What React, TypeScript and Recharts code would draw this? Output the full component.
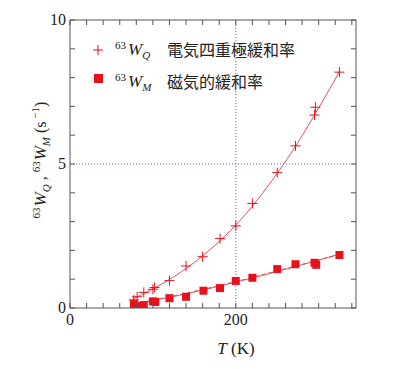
import React from "react";
import {
  ComposedChart, XAxis, YAxis, Scatter, Line, ReferenceLine,
} from "recharts";

// 63W_Q (electric quadrupole relaxation rate) measured points
const qTemp = [77, 81, 89, 100, 102, 120, 140, 160, 181, 200, 220, 250, 272, 295, 296, 325];
const qRate = [0.28, 0.39, 0.54, 0.65, 0.71, 0.95, 1.46, 1.78, 2.41, 2.85, 3.63, 4.7, 5.63, 6.7, 6.97, 8.19];
// 63W_M (magnetic relaxation rate) measured points
const mTemp = [77, 82, 89, 100, 103, 120, 140, 161, 181, 200, 220, 250, 272, 295, 297, 325];
const mRate = [0.14, 0.07, 0.1, 0.23, 0.21, 0.34, 0.39, 0.6, 0.69, 0.94, 1.05, 1.35, 1.52, 1.57, 1.5, 1.84];
// fitted curves
const qFitT = [75, 100, 125, 150, 175, 200, 225, 250, 275, 300, 325];
const qFitW = [0.3, 0.66, 1.08, 1.58, 2.18, 2.88, 3.72, 4.68, 5.75, 6.95, 8.2];
const mFitT = [75, 125, 200, 262, 325];
const mFitW = [0.14, 0.4, 0.9, 1.36, 1.87];
const mFit2W = [0.12, 0.42, 0.92, 1.38, 1.86];

const xTicks = [0, 20, 40, 60, 80, 100, 120, 140, 160, 180, 200, 220, 240, 260, 280, 300, 320, 340];
const yTicks = [0, 1, 2, 3, 4, 5, 6, 7, 8, 9, 10];
const xLabels = [0, 200];
const yLabels = [0, 5, 10];

const zip = (xs: number[], ys: number[]) => xs.map((t, i) => ({ t, w: ys[i] }));
const qData = zip(qTemp, qRate);
const mData = zip(mTemp, mRate);
const qFit = zip(qFitT, qFitW);
const mFit = zip(mFitT, mFitW);
const mFit2 = zip(mFitT, mFit2W);

const RED = "#e8101a";
const CURVE = "#e0505a";
const AXIS = "#555";
const SERIF = "'Liberation Serif', 'DejaVu Serif', serif";
const CJK = "'Noto Sans CJK JP', sans-serif";

const Plus = (p: any) => (
  <g stroke={RED} strokeWidth={1}>
    <line x1={p.cx - 5} x2={p.cx + 5} y1={p.cy} y2={p.cy} />
    <line x1={p.cx} x2={p.cx} y1={p.cy - 5} y2={p.cy + 5} />
  </g>
);
const Square = (p: any) => <rect x={p.cx - 4} y={p.cy - 4} width={8} height={8} fill={RED} />;

const BottomTick = (p: any) => (
  <g>
    <line x1={p.x} x2={p.x} y1={p.y} y2={p.y - 5} stroke={AXIS} />
    {xLabels.includes(p.payload.value) && (
      <text x={p.x} y={p.y + 17} textAnchor="middle" fontSize={16} fontFamily={SERIF} fill="#222">{p.payload.value}</text>
    )}
  </g>
);
const TopTick = (p: any) => <line x1={p.x} x2={p.x} y1={p.y} y2={p.y + 5} stroke={AXIS} />;
const LeftTick = (p: any) => (
  <g>
    <line x1={p.x} x2={p.x + 5} y1={p.y} y2={p.y} stroke={AXIS} />
    {yLabels.includes(p.payload.value) && (
      <text x={p.x - 4} y={p.y + 5} textAnchor="end" fontSize={16} fontFamily={SERIF} fill="#222">{p.payload.value}</text>
    )}
  </g>
);
const RightTick = (p: any) => <line x1={p.x} x2={p.x - 5} y1={p.y} y2={p.y} stroke={AXIS} />;

export default function App() {
  return (
    <div style={{ position: "absolute", left: 0, top: 0, width: 400, height: 369, background: "#fff" }}>
      <ComposedChart width={400} height={369} margin={{ top: 19, right: 43, bottom: 60, left: 69 }}>
        <XAxis dataKey="t" type="number" domain={[0, 345]} ticks={xTicks} allowDataOverflow
          height={1} tickSize={0} tickMargin={0} tickLine={false} tick={BottomTick} stroke={AXIS} interval={0} />
        <XAxis xAxisId="top" orientation="top" dataKey="t" type="number" domain={[0, 345]} ticks={xTicks} allowDataOverflow
          height={1} tickSize={0} tickMargin={0} tickLine={false} tick={TopTick} stroke={AXIS} interval={0} />
        <YAxis dataKey="w" type="number" domain={[0, 10]} ticks={yTicks} allowDataOverflow
          width={1} tickSize={0} tickMargin={0} tickLine={false} tick={LeftTick} stroke={AXIS} interval={0} />
        <YAxis yAxisId="right" orientation="right" dataKey="w" type="number" domain={[0, 10]} ticks={yTicks} allowDataOverflow
          width={1} tickSize={0} tickMargin={0} tickLine={false} tick={RightTick} stroke={AXIS} interval={0} />
        <ReferenceLine x={200} stroke="#5566cc" strokeDasharray="1 2" strokeWidth={1} />
        <ReferenceLine y={5} stroke="#5566cc" strokeDasharray="1 2" strokeWidth={1} />
        <Line data={qFit} dataKey="w" type="monotone" stroke={CURVE} strokeWidth={1} dot={false} isAnimationActive={false} />
        <Line data={mFit} dataKey="w" type="monotone" stroke={CURVE} strokeWidth={1} dot={false} isAnimationActive={false} />
        <Line data={mFit2} dataKey="w" type="monotone" stroke={CURVE} strokeWidth={1} strokeDasharray="4 3" dot={false} isAnimationActive={false} />
        <Scatter data={qData} dataKey="w" shape={Plus} isAnimationActive={false} />
        <Scatter data={mData} dataKey="w" shape={Square} isAnimationActive={false} />
        {/* legend */}
        <g>
          <g stroke={RED} strokeWidth={1}>
            <line x1={93} x2={103} y1={50} y2={50} />
            <line x1={98} x2={98} y1={45} y2={55} />
          </g>
          <rect x={94} y={74} width={9} height={9} fill={RED} />
          <text x={115} y={55} fontFamily={SERIF} fill="#222">
            <tspan fontSize={11} dy={-6}>63</tspan>
            <tspan fontSize={17} fontStyle="italic" dx={2} dy={6}>W</tspan>
            <tspan fontSize={11} fontStyle="italic" dy={4}>Q</tspan>
          </text>
          <text x={167} y={56} fontSize={16} fontFamily={CJK} fill="#222">電気四重極緩和率</text>
          <text x={115} y={87} fontFamily={SERIF} fill="#222">
            <tspan fontSize={11} dy={-6}>63</tspan>
            <tspan fontSize={17} fontStyle="italic" dx={2} dy={6}>W</tspan>
            <tspan fontSize={11} fontStyle="italic" dy={4}>M</tspan>
          </text>
          <text x={167} y={88} fontSize={16} fontFamily={CJK} fill="#222">磁気的緩和率</text>
        </g>
        <text transform="translate(46,160) rotate(-90)" textAnchor="middle" fontFamily={SERIF} fill="#222">
          <tspan fontSize={11} dy={-6}>63</tspan>
          <tspan fontSize={17} fontStyle="italic" dx={1} dy={6}>W</tspan>
          <tspan fontSize={11} fontStyle="italic" dy={4}>Q</tspan>
          <tspan fontSize={16} dy={-4}> , </tspan>
          <tspan fontSize={11} dy={-6}>63</tspan>
          <tspan fontSize={17} fontStyle="italic" dx={1} dy={6}>W</tspan>
          <tspan fontSize={11} fontStyle="italic" dy={4}>M</tspan>
          <tspan fontSize={16} dy={-4}>  (s</tspan>
          <tspan fontSize={11} dy={-7}> −1</tspan>
          <tspan fontSize={16} dy={7}>)</tspan>
        </text>
        <text x={236} y={354} textAnchor="middle" fontFamily={SERIF} fontSize={17} fill="#222">
          <tspan fontStyle="italic">T</tspan>
          <tspan> (K)</tspan>
        </text>
      </ComposedChart>
    </div>
  );
}
